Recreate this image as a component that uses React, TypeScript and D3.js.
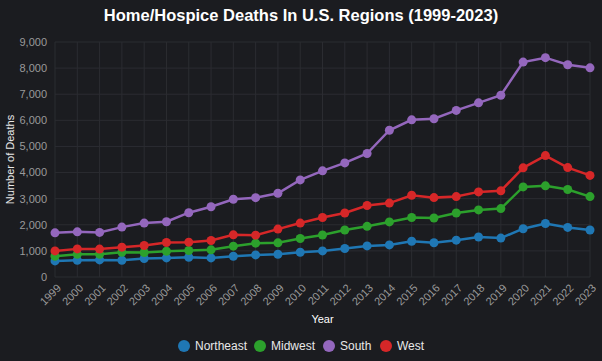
import React from "react";
import * as d3 from "d3";

const years = d3.range(1999, 2024).map(String);
const northeast = [615, 642, 654, 642, 707, 732, 757, 732, 796, 846, 873, 950, 1000, 1090, 1190, 1230, 1370, 1310, 1410, 1530, 1490, 1850, 2050, 1900, 1800];
const midwest = [796, 873, 873, 950, 937, 988, 1014, 1040, 1181, 1296, 1309, 1476, 1610, 1800, 1940, 2110, 2280, 2260, 2450, 2570, 2620, 3450, 3490, 3350, 3080];
const south = [1690, 1730, 1707, 1911, 2065, 2115, 2462, 2692, 2977, 3038, 3207, 3719, 4065, 4370, 4730, 5620, 6020, 6060, 6380, 6670, 6960, 8230, 8400, 8130, 8010];
const west = [1000, 1077, 1070, 1142, 1206, 1321, 1334, 1398, 1615, 1603, 1834, 2065, 2280, 2450, 2740, 2830, 3130, 3040, 3080, 3260, 3300, 4180, 4650, 4190, 3890];
const yTicks = [0, 1000, 2000, 3000, 4000, 5000, 6000, 7000, 8000, 9000];

const series = [
  { name: "Northeast", values: northeast, color: "#1f77b4" },
  { name: "Midwest", values: midwest, color: "#2ca02c" },
  { name: "South", values: south, color: "#9467bd" },
  { name: "West", values: west, color: "#d62728" },
];

const width = 602;
const height = 361;
const margin = { top: 42, right: 12, bottom: 84, left: 55 };

const App = () => {
  const x = d3.scalePoint(years, [margin.left, width - margin.right]);
  const y = d3.scaleLinear([0, 9000], [height - margin.bottom, margin.top]);
  const fmt = d3.format(",");
  const line = d3.line<number>().x((d, i) => x(years[i])!).y(d => y(d));

  // legend positions
  const legendX = [184, 260, 329, 386];

  return (
    <svg width={width} height={height} style={{ position: "absolute", left: 0, top: 0, background: "#1b1c20" }}
      fontFamily="Liberation Sans, Arial, sans-serif">
      <rect width={width} height={height} fill="#1b1c20" />
      <text x={width / 2} y={21} textAnchor="middle" fill="#fff" fontSize={16.5} fontWeight="bold">
        Home/Hospice Deaths In U.S. Regions (1999-2023)
      </text>

      {/* grid */}
      <g stroke="#2b2c31" strokeWidth={1}>
        {yTicks.map(t => (
          <line key={t} x1={margin.left} x2={width - margin.right} y1={y(t)} y2={y(t)} />
        ))}
        {years.map(yr => (
          <line key={yr} x1={x(yr)} x2={x(yr)} y1={margin.top} y2={height - margin.bottom} />
        ))}
      </g>

      {/* y axis */}
      <g fill="#9a9a9a" fontSize={11} textAnchor="end">
        {yTicks.map(t => (
          <text key={t} x={47} y={y(t)} dy="0.35em">{fmt(t)}</text>
        ))}
      </g>
      <text transform={`translate(10,${(margin.top + height - margin.bottom) / 2}) rotate(-90)`}
        textAnchor="middle" fill="#e8e8e8" fontSize={11} dy="0.35em">Number of Deaths</text>

      {/* x axis */}
      <g fill="#9a9a9a" fontSize={11} textAnchor="end">
        {years.map(yr => (
          <text key={yr} transform={`translate(${x(yr)! + 4},${height - margin.bottom + 9}) rotate(-45)`} dy="0.35em">{yr}</text>
        ))}
      </g>
      <text x={(margin.left + width - margin.right) / 2} y={323} textAnchor="middle" fill="#fff" fontSize={11}>Year</text>

      {/* lines */}
      {series.map(s => (
        <g key={s.name}>
          <path d={line(s.values)!} fill="none" stroke={s.color} strokeWidth={2.5} />
          {s.values.map((v, i) => (
            <circle key={i} cx={x(years[i])} cy={y(v)} r={4.5} fill={s.color} />
          ))}
        </g>
      ))}

      {/* legend */}
      <g fontSize={12} fill="#e8e8e8">
        {series.map((s, i) => (
          <g key={s.name} transform={`translate(${legendX[i]},346)`}>
            <circle r={6} fill={s.color} />
            <text x={11} dy="0.35em">{s.name}</text>
          </g>
        ))}
      </g>
    </svg>
  );
};

export default App;
